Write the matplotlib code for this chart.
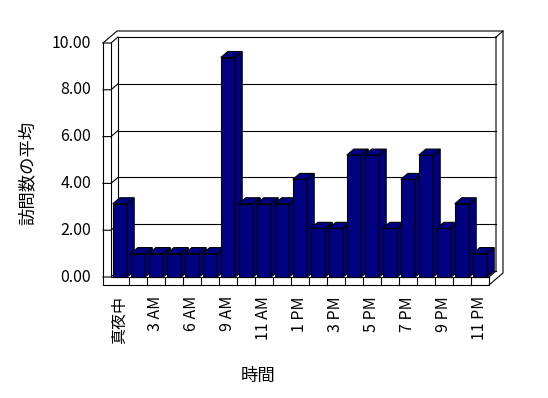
import matplotlib
matplotlib.use("Agg")
import matplotlib.pyplot as plt
from matplotlib.patches import Polygon

plt.rcParams['font.family'] = ['Noto Sans CJK JP', 'DejaVu Sans']
plt.rcParams['font.size'] = 11.5

hours = ['真夜中', '1 AM', '3 AM', '4 AM', '6 AM', '7 AM', '9 AM', '10 AM', '11 AM', '正午',
         '1 PM', '2 PM', '3 PM', '4 PM', '5 PM', '6 PM', '7 PM', '8 PM', '9 PM', '10 PM', '11 PM']
visits = [3.13, 1.0, 1.0, 1.0, 1.0, 1.0, 9.38, 3.13, 3.13, 3.13,
          4.17, 2.08, 2.08, 5.21, 5.21, 2.08, 4.17, 5.21, 2.08, 3.13, 1.0]
yticks = [0, 2, 4, 6, 8, 10]

W, H = 548, 398
fig = plt.figure(figsize=(W / 100, H / 100), dpi=100)
n = len(hours)
# front plane of the 3D box: x 111..489 px, y 277..43 px
ax = fig.add_axes([111 / W, (H - 277) / H, 378 / W, 234 / H])
ax.set_xlim(0, n)
ax.set_ylim(0, 10)
ax.axis('off')

px_x = n / 378.0          # data units per pixel
px_y = 10 / 234.0
DX, DY = 7 * px_x, 6 * px_y      # depth offset
WL, FT = 8 * px_x, 8 * px_y      # wall / floor thickness
lw = 0.8
k = dict(color='black', lw=lw, clip_on=False, zorder=2)

# back wall gridlines and left wall ticks
for v in yticks:
    ax.plot([DX, n + DX], [v + DY, v + DY], **k)
    ax.plot([-WL, 0, DX], [v, v, v + DY], **k)

# walls outline
ax.plot([-WL, -WL + 2 * DX, n + 2 * DX, n + 2 * DX, n],
        [10, 10 + 2 * DY, 10 + 2 * DY, -FT + 2 * DY, -FT], **k)
ax.plot([n + DX, n + 2 * DX], [10 + DY, 10 + 2 * DY], **k)
ax.plot([n + DX, n + DX, n], [10 + DY, DY, 0], **k)
ax.plot([-WL, -WL, n, n], [10, -FT, -FT, 0], **k)
ax.plot([0, 0, n], [10, 0, 0], **k)
ax.plot([DX, DX], [DY, 10 + DY], **k)

# floor front ticks
for i in range(1, n):
    ax.plot([i, i], [-FT, 0], **k)

# bars
gap, bw = 0.1, 0.8
navy = '#000080'
bars = ax.bar([i + gap for i in range(n)], visits, width=bw, align='edge',
              color=navy, edgecolor='black', linewidth=lw)
for i, (b, v) in enumerate(zip(bars, visits)):
    z = 10 + i
    b.set_zorder(z)
    b.set_clip_on(False)
    xl, xr = i + gap, i + gap + bw
    side = Polygon([(xr, 0), (xr + DX, DY), (xr + DX, v + DY), (xr, v)],
                   closed=True, facecolor=navy, edgecolor='black', lw=lw,
                   zorder=z, clip_on=False)
    top = Polygon([(xl, v), (xl + DX, v + DY), (xr + DX, v + DY), (xr, v)],
                  closed=True, facecolor=navy, edgecolor='black', lw=lw,
                  zorder=z, clip_on=False)
    ax.add_patch(side)
    ax.add_patch(top)

# tick labels
for v in yticks:
    ax.text(-20 * px_x, v, f'{v:.2f}', ha='right', va='center')
for i in range(0, n, 2):
    ax.text(i + 0.5, -19 * px_y, hours[i], rotation=90, ha='center', va='top')

fig.text(28 / W, 1 - 173 / H, '訪問数の平均', rotation=90, ha='center', va='center',
         fontsize=12.5)
fig.text(258 / W, 1 - 376 / H, '時間', ha='center', va='center', fontsize=12.5)

fig.savefig('out.png', dpi=100, facecolor='white')
